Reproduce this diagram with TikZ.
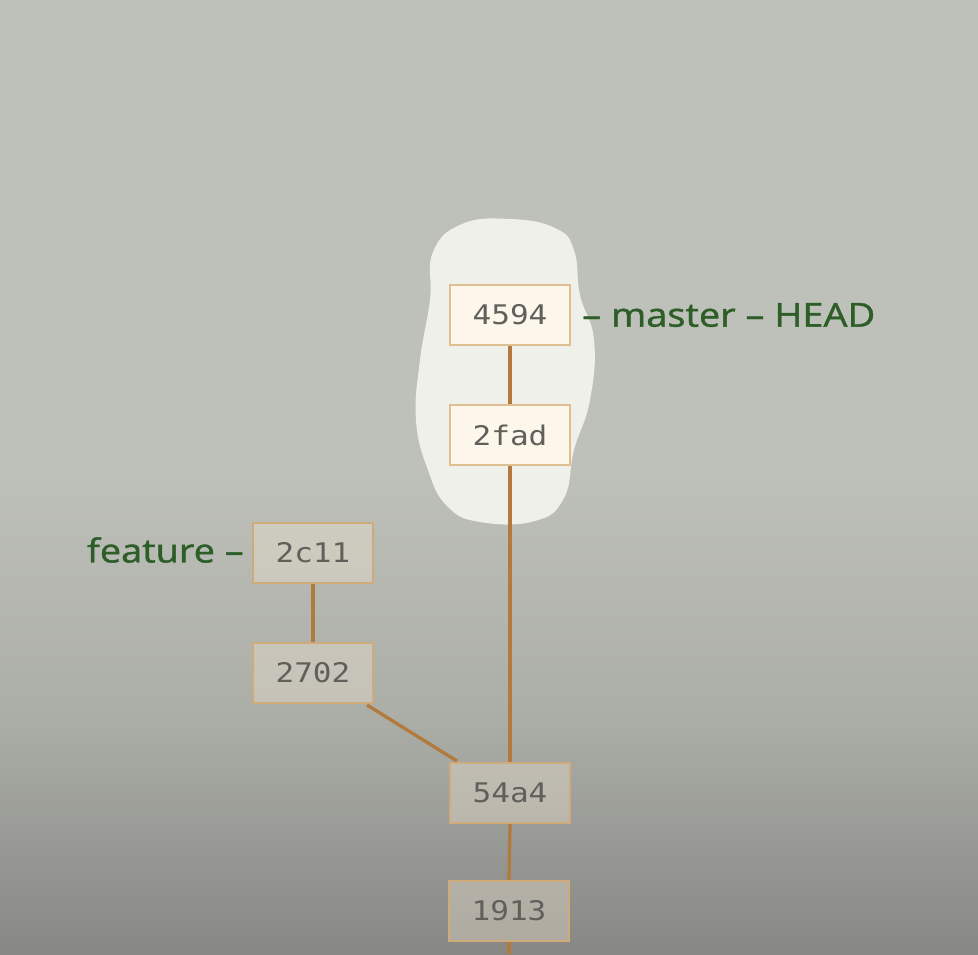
\documentclass[tikz,border=0pt]{standalone}
\usepackage{fontspec}
\setmainfont{Open Sans}
\newfontfamily\boxfont{DejaVu Sans Mono}
\newfontfamily\labfont[FakeBold=1.2]{Open Sans}
\usetikzlibrary{positioning}
\definecolor{bgtop}{HTML}{BEC1B9}
\definecolor{bgmid}{HTML}{ABADA7}
\definecolor{bgbot}{HTML}{878884}
\definecolor{blob}{HTML}{F0F0EA}
\definecolor{cream}{HTML}{FCF7EA}
\definecolor{warm}{HTML}{F5E8D5}
\definecolor{tan}{HTML}{DDBF92}
\definecolor{dimtan}{HTML}{CFAB7C}
\definecolor{edge}{HTML}{B27A3C}
\definecolor{hashgrey}{HTML}{5F5F5B}
\definecolor{labgreen}{HTML}{2E5E28}
\newcommand{\wide}[1]{\scalebox{1.15}[1]{#1}}
\tikzset{
  commit/.style={draw=tan, line width=2pt, fill=cream, minimum width=120pt, minimum height=60pt,
    inner sep=0pt, text=hashgrey, font=\boxfont\fontsize{27}{27}\selectfont},
  dimcommit/.style={commit, draw=dimtan, fill=warm, fill opacity=0.35, text opacity=1},
  branchlabel/.style={text=labgreen, font=\labfont\fontsize{33}{33}\selectfont, inner sep=0pt},
  link/.style={draw=edge, line width=3.3pt}
}
\begin{document}
\begin{tikzpicture}[x=1pt,y=-1pt]
\useasboundingbox (0,0) rectangle (978,954);
\fill[bgtop] (0,0) rectangle (978,470);
\shade[top color=bgtop, bottom color=bgmid] (0,469) rectangle (978,720);
\shade[top color=bgmid, bottom color=bgbot] (0,719) rectangle (978,954);
% highlight blob
\fill[blob] plot[smooth cycle, tension=0.75] coordinates {
  (462,224) (510,219) (555,228) (574,250) (580,295) (594,340) (590,400)
  (574,450) (564,498) (535,521) (480,522) (447,506) (428,470)
  (416,420) (420,360) (430,300) (433,252)};
% commits
\node[commit] (c4594) at (510,315) {\wide{4594}};
\node[commit] (c2fad) at (510,435) {\wide{2fad}};
\node[dimcommit] (c2c11) at (313,553) {\wide{2c11}};
\node[dimcommit] (c2702) at (313,673) {\wide{2702}};
\node[dimcommit] (c54a4) at (510,793) {\wide{54a4}};
\node[dimcommit] (c1913) at (509,911) {\wide{1913}};
\coordinate (bottom) at (509,954);
% links
\draw[link] (c4594.south) -- (c2fad.north);
\draw[link] (c2fad.south) -- (c54a4.north);
\draw[link] (c2c11.south) -- (c2702.north);
\draw[link] ([xshift=-7pt,yshift=-1pt]c2702.south east) -- ([xshift=8pt,yshift=1pt]c54a4.north west);
\draw[link] (c54a4.south) -- (c1913.north);
\draw[link] (c1913.south) -- (bottom);
% branch labels
\node[branchlabel, anchor=west] (master) at (582,315) {\wide{– master – HEAD}};
\node[branchlabel, anchor=east] (feature) at (244,550) {\wide{feature –}};
\end{tikzpicture}
\end{document}
